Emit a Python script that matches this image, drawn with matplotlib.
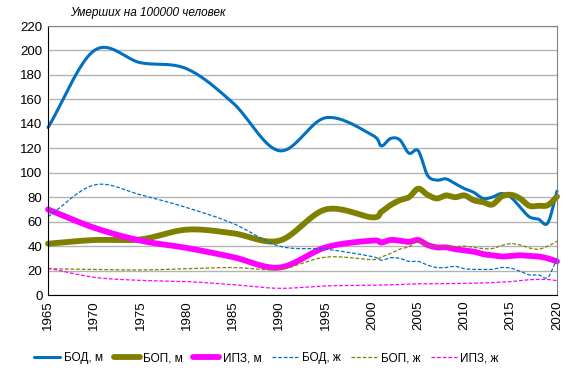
import numpy as np
import matplotlib.pyplot as plt

plt.rcParams['font.family'] = ['Liberation Sans', 'DejaVu Sans']

years = [1965, 1970, 1975, 1980, 1985, 1990, 1995, 2000,
         2001, 2002, 2003, 2004, 2005, 2006, 2007, 2008, 2009, 2010,
         2011, 2012, 2013, 2014, 2015, 2016, 2017, 2018, 2019, 2020]

bod_m = [137, 200, 190, 185, 157, 118, 145, 131,
         122, 128, 127, 116, 118, 98, 94, 95, 91, 87,
         84, 79, 80, 83, 80, 72, 64, 62, 59, 85]
bop_m = [42, 45, 45.5, 53.5, 50.5, 44.5, 70, 63.5,
         68, 73.5, 77.5, 80, 87, 82, 79, 81.5, 80, 81.5,
         77.5, 76, 74, 80.5, 82, 79, 73, 73, 73.5, 80.5]
ipz_m = [70, 55, 44.5, 38.5, 31, 22.5, 39, 44.5,
         43, 45, 44.5, 43.5, 45, 41, 39, 39, 37.5, 36.5,
         35.5, 33.5, 32.5, 31.5, 32, 32.5, 32, 31.5, 30, 27.5]
bod_f = [64, 90, 82, 71.5, 58.5, 40, 37.5, 31.5,
         28.5, 30.5, 30, 27.5, 27.5, 24.5, 22.5, 22.5, 23.5, 21.5,
         21, 21, 21, 22.5, 22, 19.5, 16.5, 16.5, 14.5, 30]
bop_f = [21.5, 21, 20.5, 21.5, 22.5, 21, 31, 29,
         31, 34, 37.5, 39.5, 44, 41, 39.5, 40, 39.5, 40,
         39, 38, 38, 40.5, 42, 41, 38.5, 37.5, 40, 44]
ipz_f = [22, 14.5, 12, 11, 8.5, 5.5, 7.5, 8,
         8.2, 8.4, 8.6, 8.8, 9.2, 9.2, 9.3, 9.3, 9.4, 9.5,
         9.7, 9.9, 10.2, 10.5, 11, 11.8, 12.5, 12.8, 12.7, 11.8]

year_ticks = list(range(1965, 2021, 5))


def smooth(x, y, n=20):
    # Catmull-Rom curve through the points, like Excel's smoothed line
    x = np.asarray(x, float)
    y = np.asarray(y, float)
    px = np.concatenate([[2 * x[0] - x[1]], x, [2 * x[-1] - x[-2]]])
    py = np.concatenate([[2 * y[0] - y[1]], y, [2 * y[-1] - y[-2]]])
    xs, ys = [], []
    t = np.linspace(0, 1, n, endpoint=False)
    for i in range(1, len(px) - 2):
        for p, out in ((px, xs), (py, ys)):
            p0, p1, p2, p3 = p[i - 1], p[i], p[i + 1], p[i + 2]
            m1 = (p2 - p0) / 6
            m2 = (p3 - p1) / 6
            b = ((1 - t) ** 3 * p1 + 3 * (1 - t) ** 2 * t * (p1 + m1)
                 + 3 * (1 - t) * t ** 2 * (p2 - m2) + t ** 3 * p2)
            out.extend(b)
    xs.append(x[-1])
    ys.append(y[-1])
    return np.array(xs), np.array(ys)


fig = plt.figure(figsize=(5.82, 3.73), dpi=100)
ax = fig.add_axes([0.0825, 0.209, 0.8746, 0.7212])

series = [
    (bod_m, 'БОД, м', '#0070C0', 2.2, '-'),
    (bop_m, 'БОП, м', '#808000', 4.2, '-'),
    (ipz_m, 'ИПЗ, м', '#FF00FF', 4.2, '-'),
    (bod_f, 'БОД, ж', '#0070C0', 0.9, (0, (3, 1.5))),
    (bop_f, 'БОП, ж', '#808000', 0.9, (0, (3, 1.5))),
    (ipz_f, 'ИПЗ, ж', '#FF00FF', 0.9, (0, (3, 1.5))),
]
for vals, label, color, lw, ls in series:
    sx, sy = smooth(years, vals)
    ax.plot(sx, sy, color=color, lw=lw, ls=ls, label=label,
            solid_capstyle='round', clip_on=False)

ax.set_xlim(1965, 2020)
ax.set_ylim(0, 220)
ax.set_yticks(range(0, 221, 20))
ax.set_xticks(year_ticks)
ax.set_xticklabels([str(y) for y in year_ticks], rotation=90)
ax.tick_params(length=0, labelsize=9.5, pad=4)
ax.yaxis.grid(True, color='#b3b3b3', lw=1)
ax.set_axisbelow(True)
for s in ('top', 'right'):
    ax.spines[s].set_color('#808080')
for s in ('left', 'bottom'):
    ax.spines[s].set_color('black')

fig.text(0.12, 0.965, 'Умерших на 100000 человек', style='italic',
         fontsize=8.5, va='center')

fig.legend(loc='center', bbox_to_anchor=(0.458, 0.04), ncol=6,
           frameon=False, fontsize=8.5, handlelength=2.2,
           handletextpad=0.3, columnspacing=0.9)

fig.savefig('out.png', dpi=100)
